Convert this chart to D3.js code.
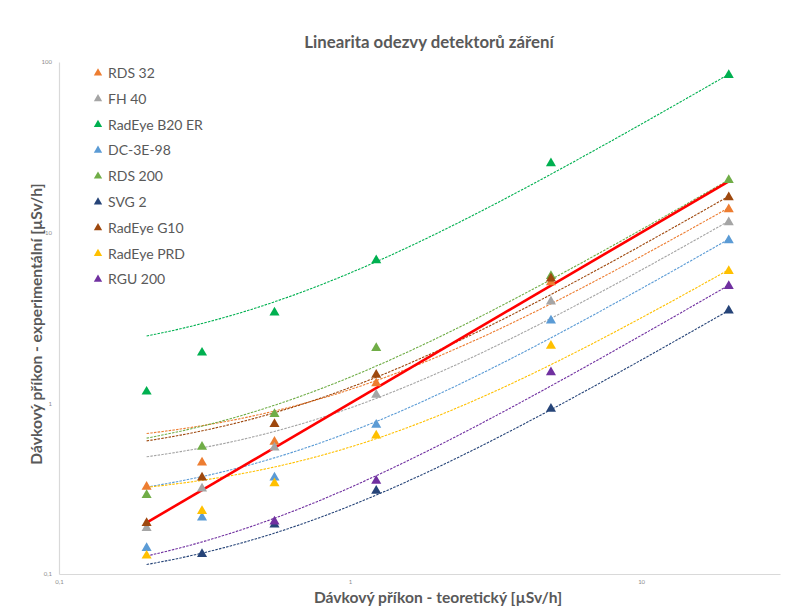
<!DOCTYPE html>
<html>
<head>
<meta charset="utf-8">
<script src="https://cdn.jsdelivr.net/npm/d3@7/dist/d3.min.js"></script>
<style>
  html, body { margin: 0; padding: 0; background: #fff; }
  svg { display: block; font-family: Lato, "Open Sans", sans-serif; }
</style>
</head>
<body>
<svg id="chart" width="788" height="610"></svg>
<script>
// Theoretical dose rate levels [µSv/h]
const doseLevels = [0.2, 0.31, 0.55, 1.23, 4.9, 20];

// Measured dose rate per detector [µSv/h]
const seriesNames = ["RDS 32", "FH 40", "RadEye B20 ER", "DC-3E-98", "RDS 200", "SVG 2", "RadEye G10", "RadEye PRD", "RGU 200"];
const seriesColors = ["#ED7D31", "#A5A5A5", "#00B050", "#5B9BD5", "#70AD47", "#264478", "#9E480E", "#FFC000", "#7030A0"];
const rds32     = [0.324, 0.450, 0.595, 1.31, 5.11, 13.7];
const fh40      = [0.186, 0.317, 0.551, 1.12, 3.95, 11.5];
const radEyeB20 = [1.17, 1.98, 3.40, 6.88, 25.5, 83.9];
const dc3e98    = [0.142, 0.214, 0.367, 0.749, 3.05, 9.01];
const rds200    = [0.290, 0.556, 0.865, 2.11, 5.56, 20.3];
const svg2      = [0.07, 0.131, 0.195, 0.307, 0.929, 3.50];
const radEyeG10 = [0.199, 0.367, 0.756, 1.47, 5.39, 16.1];
const radEyePRD = [0.128, 0.234, 0.340, 0.648, 2.17, 5.95];
const rgu200    = [0.06, 0.06, 0.203, 0.351, 1.52, 4.86];
const seriesValues = [rds32, fh40, radEyeB20, dc3e98, rds200, svg2, radEyeG10, radEyePRD, rgu200];

// Ideal response (measured = theoretical)
const idealX = [0.2, 20];
const idealY = [0.2, 20];

// Axis ticks
const xTicks = [0.1, 1, 10];
const yTicks = [0.1, 1, 10, 100];
const fmt = v => String(v).replace(".", ",");

const svg = d3.select("#chart");
const plot = { left: 59, right: 780, top: 62, bottom: 574 };

const x = d3.scaleLog().domain([0.1, 30]).range([plot.left, plot.right]);
const y = d3.scaleLog().domain([0.1, 100]).range([plot.bottom, plot.top]);

svg.append("defs").append("clipPath").attr("id", "plotClip")
  .append("rect")
  .attr("x", plot.left).attr("y", plot.top)
  .attr("width", plot.right - plot.left).attr("height", plot.bottom - plot.top);

// Axes
const xAxis = d3.axisBottom(x).tickValues(xTicks).tickFormat(fmt).tickSize(0).tickPadding(6);
const yAxis = d3.axisLeft(y).tickValues(yTicks).tickFormat(fmt).tickSize(0).tickPadding(7);

const gx = svg.append("g").attr("transform", `translate(0,${plot.bottom})`).call(xAxis);
const gy = svg.append("g").attr("transform", `translate(${plot.left},0)`).call(yAxis);
[gx, gy].forEach(g => {
  g.select(".domain").attr("stroke", "#D9D9D9").attr("stroke-width", 1.2);
  g.selectAll("text").attr("fill", "#8C8C8C").attr("font-size", 6).attr("font-family", "Lato, sans-serif");
});

// Linear least-squares trendline for each series
function linearFit(xs, ys) {
  const n = xs.length;
  const mx = d3.mean(xs), my = d3.mean(ys);
  let sxy = 0, sxx = 0;
  for (let i = 0; i < n; i++) {
    sxy += (xs[i] - mx) * (ys[i] - my);
    sxx += (xs[i] - mx) * (xs[i] - mx);
  }
  const slope = sxy / sxx;
  return { slope, intercept: my - slope * mx };
}

const plotArea = svg.append("g").attr("clip-path", "url(#plotClip)");
const lo = Math.log10(d3.min(doseLevels)), hi = Math.log10(d3.max(doseLevels));
const sampleX = d3.range(0, 121).map(i => Math.pow(10, lo + i / 120 * (hi - lo)));

const line = d3.line().x(d => x(d[0])).y(d => y(d[1]));

seriesValues.forEach((vals, i) => {
  const fit = linearFit(doseLevels, vals);
  const pts = sampleX.map(v => [v, fit.intercept + fit.slope * v]).filter(p => p[1] > 0);
  plotArea.append("path")
    .attr("d", line(pts))
    .attr("fill", "none")
    .attr("stroke", seriesColors[i])
    .attr("stroke-width", 1.1)
    .attr("stroke-dasharray", "2.5,1.2");
});

// Ideal response line
plotArea.append("path")
  .attr("d", line(idealX.map((v, i) => [v, idealY[i]])))
  .attr("fill", "none")
  .attr("stroke", "#FF0000")
  .attr("stroke-width", 2.6);

// Markers
const tri = d3.symbol().type(d3.symbolTriangle).size(44);
const triSmall = d3.symbol().type(d3.symbolTriangle).size(30);
seriesValues.forEach((vals, i) => {
  plotArea.append("g").selectAll("path")
    .data(doseLevels.map((v, j) => [v, vals[j]]))
    .join("path")
    .attr("d", tri)
    .attr("transform", d => `translate(${x(d[0])},${y(d[1])})`)
    .attr("fill", seriesColors[i]);
});

// Legend
const legend = svg.append("g").attr("transform", "translate(98,73)");
seriesNames.forEach((name, i) => {
  const row = legend.append("g").attr("transform", `translate(0,${i * 25.8})`);
  row.append("path").attr("d", triSmall).attr("fill", seriesColors[i]);
  row.append("text")
    .attr("x", 10).attr("y", 5)
    .attr("font-size", 14)
    .attr("fill", "#595959")
    .text(name);
});

// Titles
svg.append("text")
  .attr("x", 429).attr("y", 48)
  .attr("text-anchor", "middle")
  .attr("font-size", 16.8).attr("font-weight", "bold")
  .attr("fill", "#595959")
  .text("Linearita odezvy detektorů záření");

svg.append("text")
  .attr("x", 438).attr("y", 603)
  .attr("text-anchor", "middle")
  .attr("font-size", 15.6).attr("font-weight", "bold")
  .attr("fill", "#595959")
  .text("Dávkový příkon - teoretický [µSv/h]");

svg.append("text")
  .attr("transform", "translate(42,324) rotate(-90)")
  .attr("text-anchor", "middle")
  .attr("font-size", 15.6).attr("font-weight", "bold")
  .attr("fill", "#595959")
  .text("Dávkový příkon - experimentální [µSv/h]");
</script>
</body>
</html>
